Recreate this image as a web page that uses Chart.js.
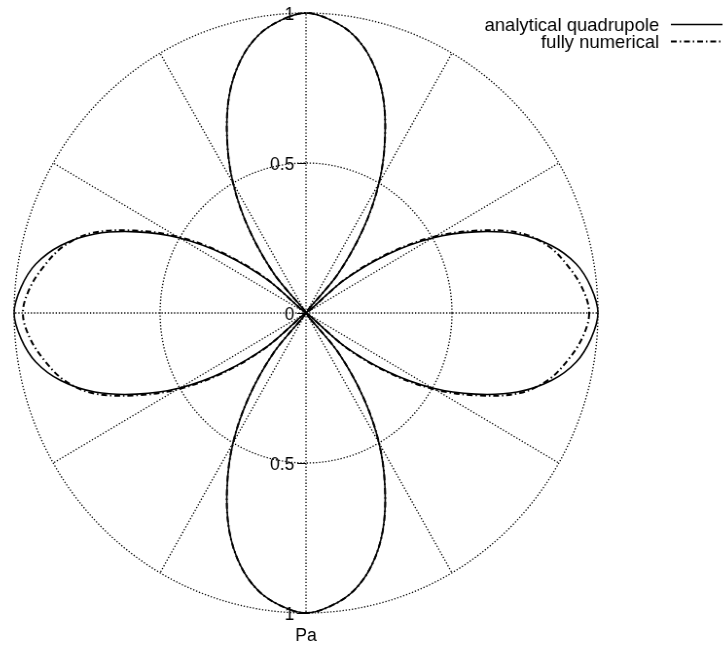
<!DOCTYPE html>
<html>
<head>
<meta charset="utf-8">
<script src="https://cdn.jsdelivr.net/npm/chart.js@4.4.1/dist/chart.umd.min.js"></script>
<style>
  html, body { margin: 0; padding: 0; overflow: hidden; background: #fff; }
  /* the polar frame is a little narrower than tall */
  #wrap { width: 748px; height: 647px; transform: scaleX(0.973); transform-origin: 306px 0; }
</style>
</head>
<body>
<div id="wrap"><canvas id="polar" width="748" height="647"></canvas></div>
<script>
// angle of each sample in degrees, clockwise on screen from the +x axis
var angles = [
  0, 5, 10, 15, 20, 25, 30, 35, 40, 45, 50, 55, 60, 65, 70, 75, 80, 85,
  90, 95, 100, 105, 110, 115, 120, 125, 130, 135, 140, 145, 150, 155, 160, 165, 170, 175,
  180, 185, 190, 195, 200, 205, 210, 215, 220, 225, 230, 235, 240, 245, 250, 255, 260, 265,
  270, 275, 280, 285, 290, 295, 300, 305, 310, 315, 320, 325, 330, 335, 340, 345, 350, 355
];

// normalised pressure amplitude (Pa)
var analytical = [
  1.00, 0.98, 0.94, 0.87, 0.77, 0.64, 0.50, 0.34, 0.17, 0.00, 0.17, 0.34, 0.50, 0.64, 0.77, 0.87, 0.94, 0.98,
  1.00, 0.98, 0.94, 0.87, 0.77, 0.64, 0.50, 0.34, 0.17, 0.00, 0.17, 0.34, 0.50, 0.64, 0.77, 0.87, 0.94, 0.98,
  1.00, 0.98, 0.94, 0.87, 0.77, 0.64, 0.50, 0.34, 0.17, 0.00, 0.17, 0.34, 0.50, 0.64, 0.77, 0.87, 0.94, 0.98,
  1.00, 0.98, 0.94, 0.87, 0.77, 0.64, 0.50, 0.34, 0.17, 0.00, 0.17, 0.34, 0.50, 0.64, 0.77, 0.87, 0.94, 0.98
];
var numerical = [
  0.97, 0.95, 0.91, 0.86, 0.78, 0.65, 0.51, 0.35, 0.18, 0.00, 0.17, 0.34, 0.50, 0.64, 0.77, 0.87, 0.94, 0.98,
  1.00, 0.98, 0.94, 0.87, 0.77, 0.64, 0.50, 0.34, 0.17, 0.00, 0.18, 0.35, 0.51, 0.65, 0.78, 0.86, 0.91, 0.95,
  0.97, 0.95, 0.91, 0.86, 0.78, 0.65, 0.51, 0.35, 0.18, 0.00, 0.17, 0.34, 0.50, 0.64, 0.77, 0.87, 0.94, 0.98,
  1.00, 0.98, 0.94, 0.87, 0.77, 0.64, 0.50, 0.34, 0.17, 0.00, 0.18, 0.35, 0.51, 0.65, 0.78, 0.86, 0.91, 0.95
];

var seriesNames = ['analytical quadrupole', 'fully numerical'];
var tickValues = [0.5, 1];
var tickText = ['0.5', '1'];
var unitLabel = 'Pa';

var FONT = '18px "Liberation Sans", Arial, sans-serif';
var KEY_FONT = '19px "Liberation Sans", Arial, sans-serif';
var TOP = 54, BOTTOM = 18;   // label indexes pointing up and down

// tick labels on the vertical axis, unit label and key
var polarText = {
  id: 'polarText',
  afterDraw: function(chart) {
    var ctx = chart.ctx;
    var r = chart.scales.r;
    var cx = r.xCenter, cy = r.yCenter;
    ctx.save();
    ctx.font = FONT;
    ctx.fillStyle = '#000';
    ctx.strokeStyle = '#000';
    ctx.lineWidth = 1;
    ctx.textAlign = 'right';
    ctx.textBaseline = 'alphabetic';

    function tick(y, text) {
      ctx.beginPath();
      ctx.moveTo(cx - 9, Math.round(y) + 0.5);
      ctx.lineTo(cx, Math.round(y) + 0.5);
      ctx.stroke();
      ctx.fillText(text, cx - 12, y + 6.5);
    }
    tick(cy, '0');
    for (var i = 0; i < tickValues.length; i++) {
      tick(r.getPointPositionForValue(TOP, tickValues[i]).y, tickText[i]);
      tick(r.getPointPositionForValue(BOTTOM, tickValues[i]).y, tickText[i]);
    }

    ctx.textAlign = 'center';
    ctx.fillText(unitLabel, cx, r.getPointPositionForValue(BOTTOM, 1).y + 28);

    // key, text right aligned with the line sample after it
    var sx0 = 681, sx1 = 734, tx = 669;
    ctx.font = KEY_FONT;
    chart.data.datasets.forEach(function(ds, k) {
      var base = 31 + k * 17;
      ctx.textAlign = 'right';
      ctx.fillText(ds.label, tx, base);
      ctx.save();
      ctx.lineWidth = ds.borderWidth;
      ctx.setLineDash(ds.borderDash || []);
      ctx.beginPath();
      ctx.moveTo(sx0, base - 6.5);
      ctx.lineTo(sx1, base - 6.5);
      ctx.stroke();
      ctx.restore();
    });
    ctx.restore();
  }
};

var ctx = document.getElementById('polar').getContext('2d');
var chart = new Chart(ctx, {
  type: 'radar',
  data: {
    labels: angles,
    datasets: [
      {
        label: seriesNames[0],
        data: analytical,
        borderColor: '#000',
        borderWidth: 1.6,
        fill: false,
        pointRadius: 0,
        tension: 0.35,
        order: 1
      },
      {
        label: seriesNames[1],
        data: numerical,
        borderColor: '#000',
        borderWidth: 2,
        borderDash: [6, 3, 1.5, 3],
        fill: false,
        pointRadius: 0,
        tension: 0.35,
        order: 0
      }
    ]
  },
  options: {
    responsive: false,
    animation: false,
    layout: { padding: { left: 6, right: 142, top: 13, bottom: 34 } },
    plugins: { legend: { display: false }, tooltip: { enabled: false } },
    scales: {
      r: {
        min: 0,
        max: 1,
        startAngle: 90,
        ticks: { display: false, stepSize: 0.5 },
        pointLabels: { display: false },
        grid: { circular: true, color: '#000', lineWidth: 1.3 },
        border: { dash: [1.3, 1.9] },
        angleLines: {
          color: '#000',
          borderDash: [1.3, 1.9],
          lineWidth: function(c) { return c.index % 6 === 0 ? 1.3 : 0; }
        }
      }
    }
  },
  plugins: [polarText]
});
</script>
</body>
</html>
